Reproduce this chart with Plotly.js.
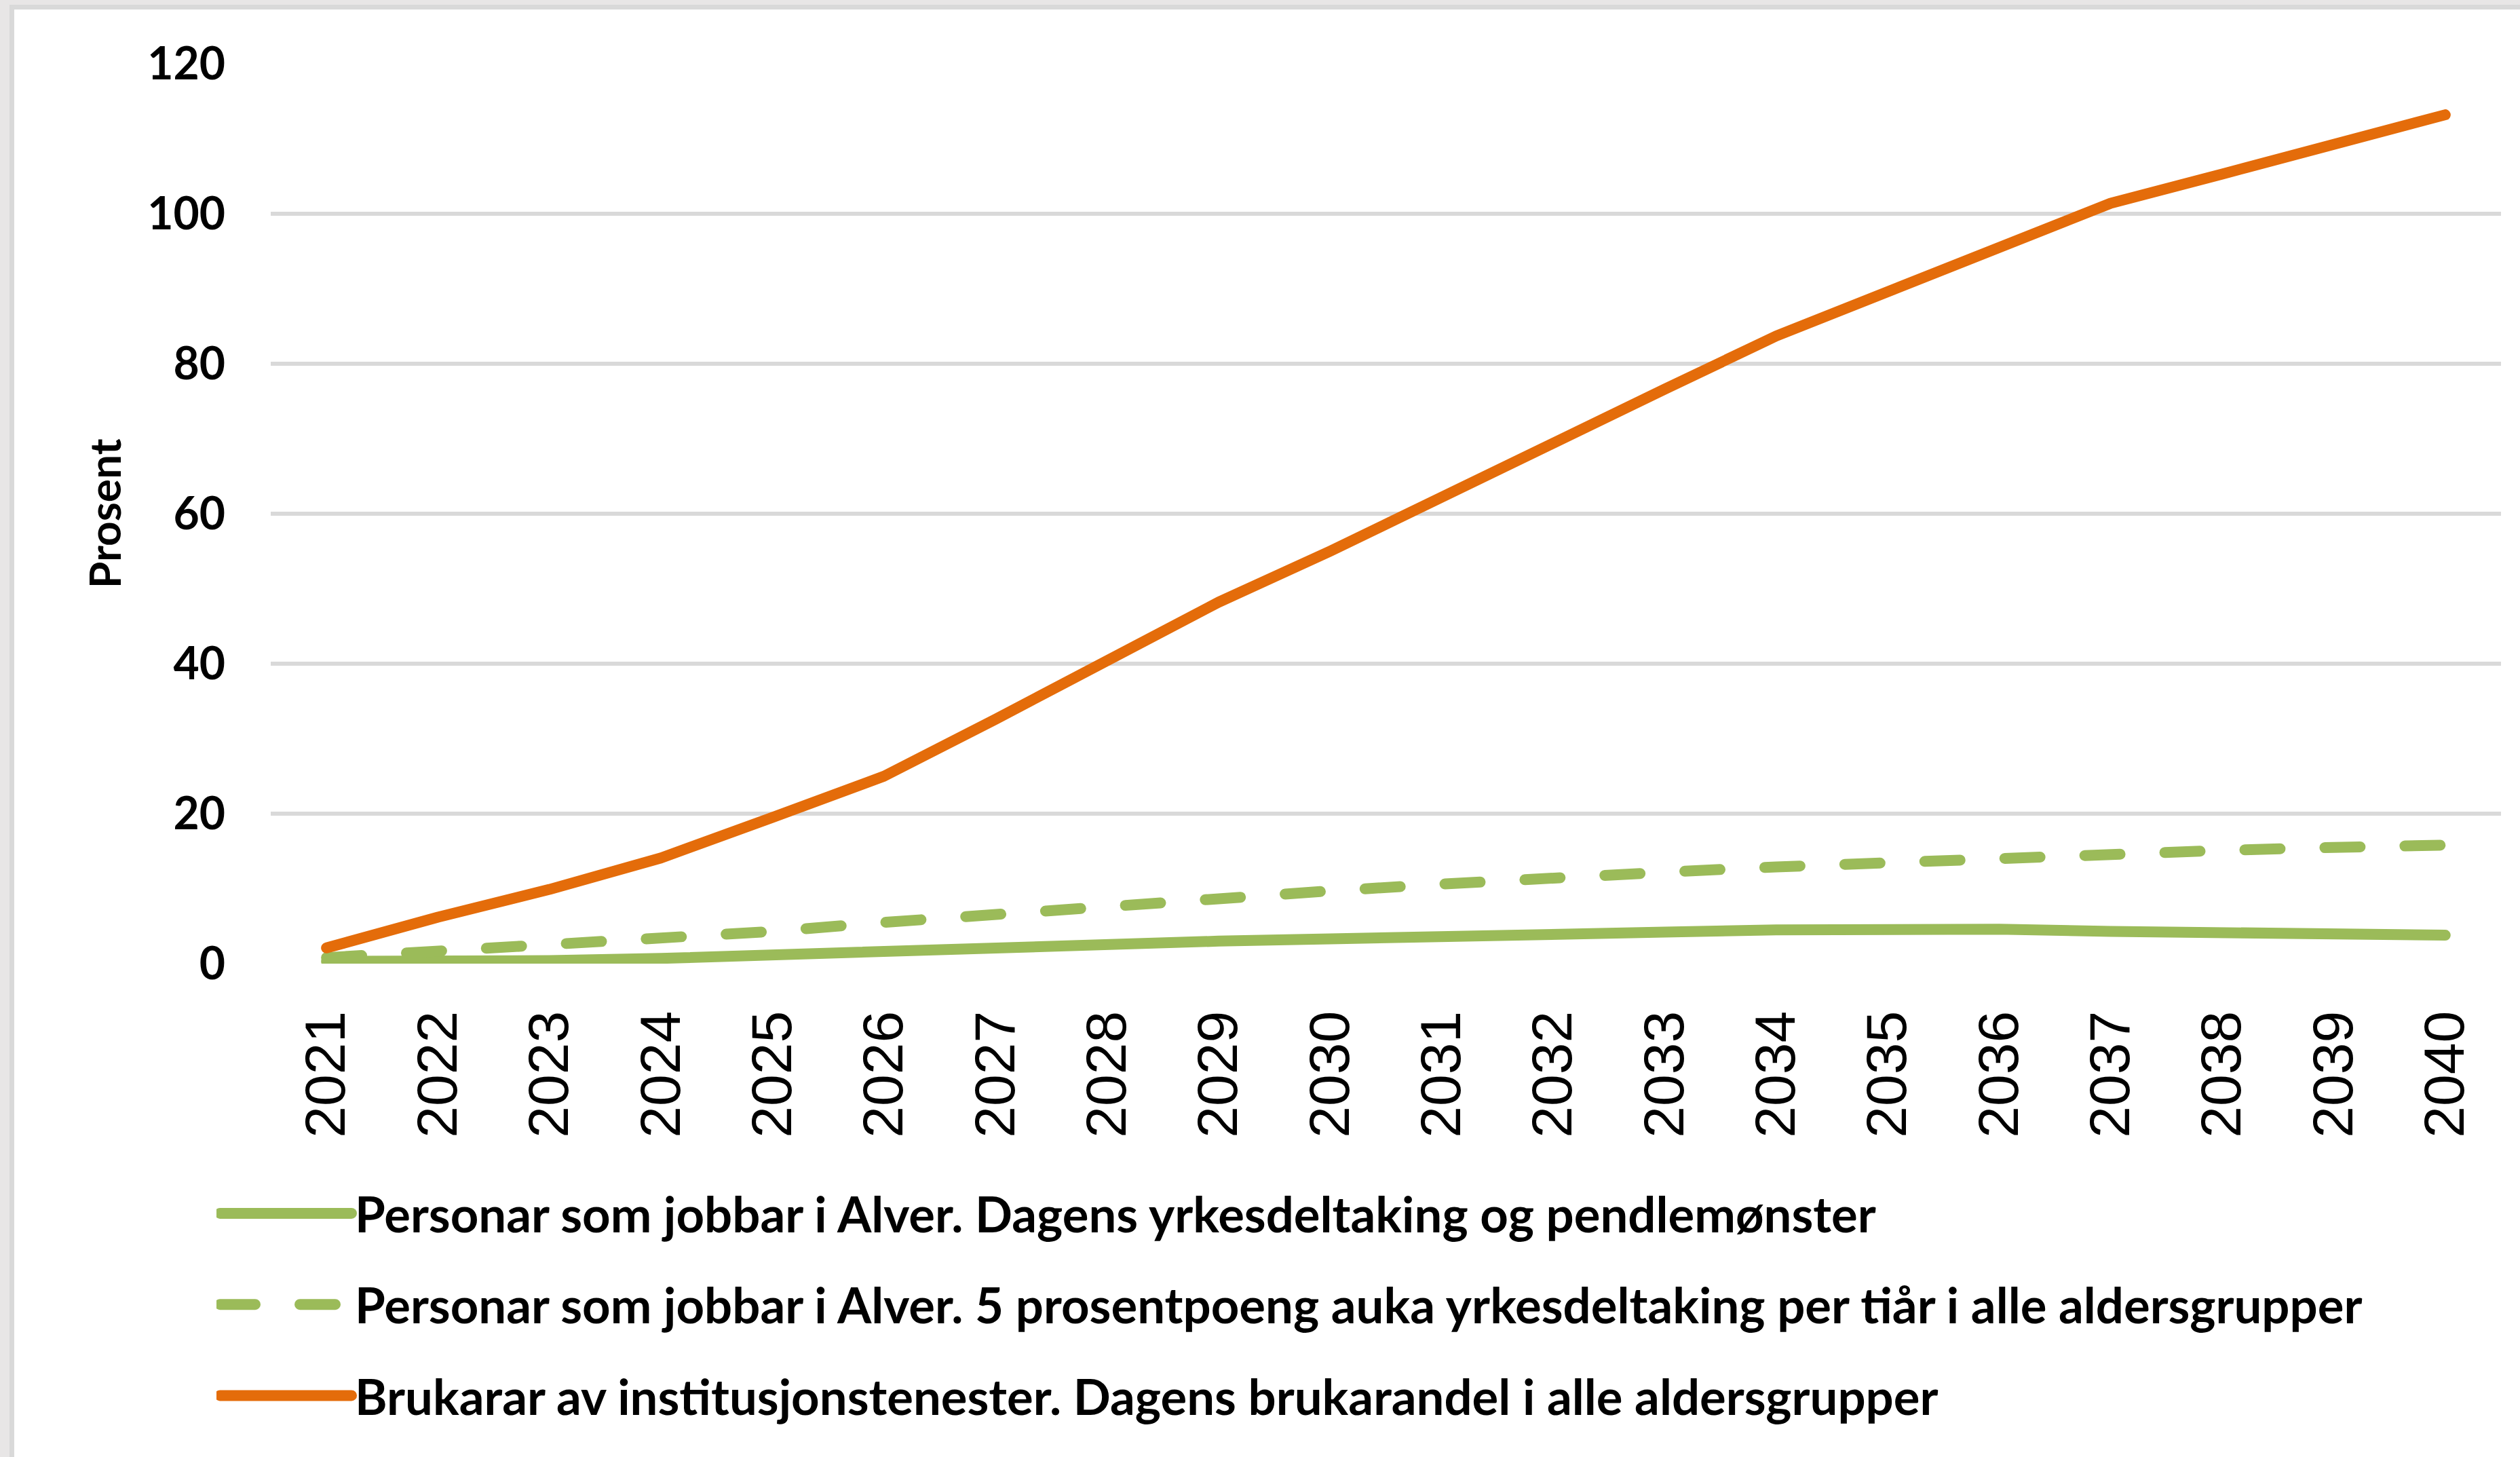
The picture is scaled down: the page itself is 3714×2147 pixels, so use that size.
<!DOCTYPE html>
<html>
<head>
<meta charset="utf-8">
<script src="https://cdn.plot.ly/plotly-3.0.1.min.js"></script>
<style>
  html, body { margin: 0; padding: 0; background: #e8e6e6; }
  #chart {
    position: absolute;
    left: 14px;
    top: 7px;
    width: 3693px;
    height: 2133px;
    border-left: 7px solid #d9d9d9;
    border-top: 7px solid #d9d9d9;
    background: #ffffff;
  }
  /* Excel draws the lines with round caps, and the legend keys as thick as the lines */
  #chart .scatterlayer .js-line { stroke-linecap: round; stroke-linejoin: round; }
  #chart g.legendlines path,
  #chart .legend .js-line { stroke-linecap: round; stroke-width: 16px !important; }
</style>
</head>
<body>
<div id="chart"></div>
<script>
// Years on the category axis
const years = [
  "2021", "2022", "2023", "2024", "2025", "2026", "2027", "2028", "2029", "2030",
  "2031", "2032", "2033", "2034", "2035", "2036", "2037", "2038", "2039", "2040",
];

// Series values (prosent)
const jobbarDagens = [
  0.3, 0.3, 0.4, 0.7, 1.2, 1.6, 2.1, 2.5, 3.0, 3.3,
  3.7, 4.0, 4.2, 4.5, 4.6, 4.6, 4.3, 4.2, 3.9, 3.8,
];
const jobbarAuka = [
  0.8, 1.6, 2.5, 3.3, 4.3, 5.5, 6.6, 7.7, 8.7, 9.7,
  10.6, 11.5, 12.2, 12.9, 13.5, 14.1, 14.6, 15.1, 15.5, 15.8,
];
const brukarar = [
  2.1, 6.2, 9.9, 14.1, 19.5, 25.0, 32.6, 40.6, 48.2, 55.0,
  62.3, 69.2, 76.6, 83.7, 89.5, 95.3, 101.4, 105.3, 109.3, 113.2,
];

const seriesNames = [
  "Personar som jobbar i Alver. Dagens yrkesdeltaking og pendlemønster",
  "Personar som jobbar i Alver. 5 prosentpoeng auka yrkesdeltaking per tiår i alle aldersgrupper",
  "Brukarar av institusjonstenester. Dagens brukarandel i alle aldersgrupper",
];

const yTicks = [0, 20, 40, 60, 80, 100, 120];

const GREEN = "#9bbb59";
const ORANGE = "#e46c0a";

function lineTrace(values, name, color, dash, group) {
  return {
    x: years,
    y: values,
    name: name,
    type: "scatter",
    mode: "lines",
    legendgroup: group,
    line: { color: color, width: 16, dash: dash },
    hoverinfo: "skip",
  };
}

const traces = [
  lineTrace(jobbarDagens, seriesNames[0], GREEN, "solid", "a"),
  lineTrace(jobbarAuka, seriesNames[1], GREEN, "52px,66px", "b"),
  lineTrace(brukarar, seriesNames[2], ORANGE, "solid", "c"),
];

const layout = {
  width: 3693,
  height: 2133,
  margin: { l: 378, r: 28, t: 80, b: 727, autoexpand: false },
  paper_bgcolor: "#ffffff",
  plot_bgcolor: "#ffffff",
  font: { family: "Lato, sans-serif", color: "#000000" },
  showlegend: true,
  xaxis: {
    type: "category",
    range: [-0.5, 19.5],
    tickmode: "array",
    tickvals: years,
    ticktext: years,
    tickangle: -90,
    ticks: "",
    showgrid: false,
    showline: false,
    zeroline: false,
    automargin: false,
    ticklabelstandoff: 52,
    tickfont: { family: "Liberation Sans, Arial, sans-serif", size: 84, color: "#000000" },
  },
  yaxis: {
    range: [0, 120],
    tickvals: yTicks,
    ticktext: yTicks.map(String),
    ticks: "",
    showline: false,
    zeroline: false,
    automargin: false,
    gridcolor: "#d9d9d9",
    gridwidth: 6,
    ticklabelstandoff: 66,
    tickfont: { family: "Lato, sans-serif", size: 66, weight: "bold", color: "#000000" },
  },
  annotations: [
    {
      text: "Prosent",
      xref: "paper",
      yref: "paper",
      x: -0.0748,
      y: 0.5,
      xanchor: "center",
      yanchor: "middle",
      textangle: -90,
      showarrow: false,
      font: { family: "Lato, sans-serif", size: 64, weight: "bold", color: "#000000" },
    },
  ],
  legend: {
    xref: "container",
    yref: "container",
    x: 0.0807,
    y: 0.1935,
    xanchor: "left",
    yanchor: "top",
    orientation: "v",
    traceorder: "grouped",
    tracegroupgap: 37,
    itemwidth: 194,
    bgcolor: "rgba(0,0,0,0)",
    borderwidth: 0,
    font: { family: "Lato, sans-serif", size: 72.5, weight: "bold", color: "#000000" },
  },
};

Plotly.newPlot("chart", traces, layout, { staticPlot: true, displayModeBar: false });
</script>
</body>
</html>
